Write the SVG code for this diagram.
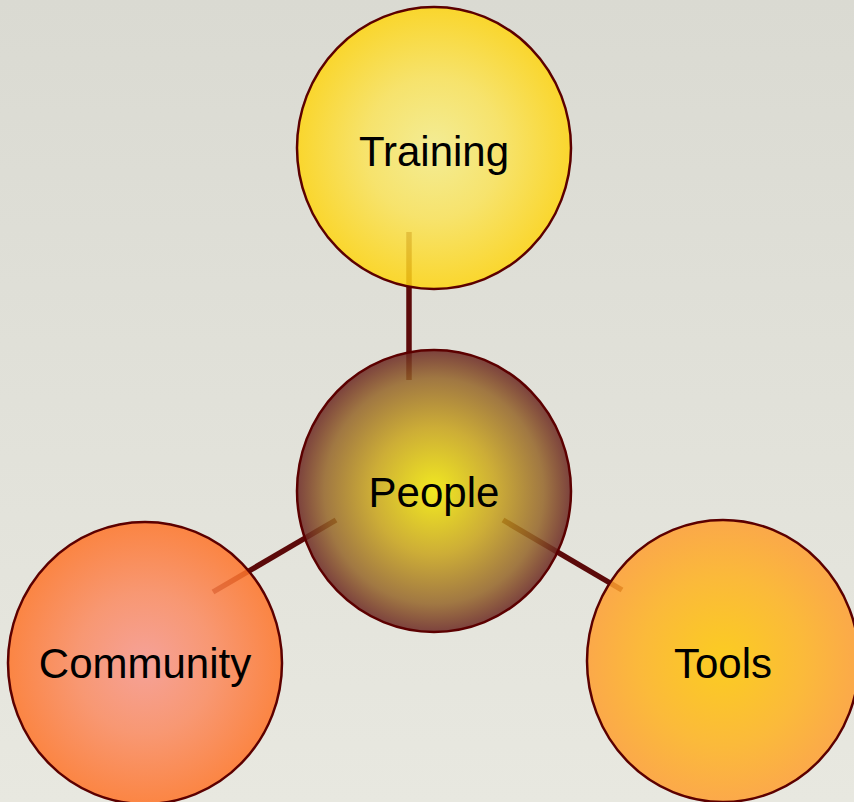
<svg xmlns="http://www.w3.org/2000/svg" width="854" height="802" viewBox="0 0 854 802">
<style>
.node ellipse{stroke:#5c0000;stroke-width:2.5;fill-opacity:0.85}
.node text{font-family:"Liberation Sans",Arial,sans-serif;font-size:42px;fill:#000;text-anchor:middle}
.conn line{stroke:#5c0a0a;stroke-width:5.5;stroke-linecap:butt}
</style>
<defs>
<linearGradient id="bg" x1="0" y1="0" x2="0" y2="1">
<stop offset="0" stop-color="#dadad2"/>
<stop offset="1" stop-color="#e8e8e0"/>
</linearGradient>
<radialGradient id="gTrain" cx="0.5" cy="0.5" r="0.5">
<stop offset="0" stop-color="#f7ef8a"/>
<stop offset="0.5" stop-color="#fbe45a"/>
<stop offset="1" stop-color="#ffd510"/>
</radialGradient>
<radialGradient id="gPeople" cx="0.5" cy="0.5" r="0.5">
<stop offset="0" stop-color="#f4ea00"/>
<stop offset="0.45" stop-color="#c9a41a"/>
<stop offset="0.8" stop-color="#956528"/>
<stop offset="1" stop-color="#6a2622"/>
</radialGradient>
<radialGradient id="gComm" cx="0.5" cy="0.5" r="0.5">
<stop offset="0" stop-color="#f8968c"/>
<stop offset="0.5" stop-color="#fb8a60"/>
<stop offset="1" stop-color="#ff7428"/>
</radialGradient>
<radialGradient id="gTools" cx="0.5" cy="0.5" r="0.5">
<stop offset="0" stop-color="#ffc800"/>
<stop offset="0.6" stop-color="#ffb21e"/>
<stop offset="1" stop-color="#ff9e30"/>
</radialGradient>
</defs>
<rect x="0" y="0" width="854" height="802" fill="url(#bg)"/>
<g id="connectors" class="conn">
<line x1="409" y1="232" x2="409" y2="380"/>
<line x1="336" y1="520" x2="213" y2="592"/>
<line x1="503" y1="520" x2="622" y2="590"/>
</g>
<g id="training" class="node">
<ellipse cx="434" cy="148" rx="137" ry="141" fill="url(#gTrain)"/>
<text x="434" y="166">Training</text>
</g>
<g id="people" class="node">
<ellipse cx="434" cy="491" rx="137" ry="141" fill="url(#gPeople)"/>
<text x="434" y="507">People</text>
</g>
<g id="community" class="node">
<ellipse cx="145" cy="663" rx="137" ry="141" fill="url(#gComm)"/>
<text x="145" y="678">Community</text>
</g>
<g id="tools" class="node">
<ellipse cx="723" cy="661" rx="136" ry="141" fill="url(#gTools)"/>
<text x="723" y="678">Tools</text>
</g>
</svg>
